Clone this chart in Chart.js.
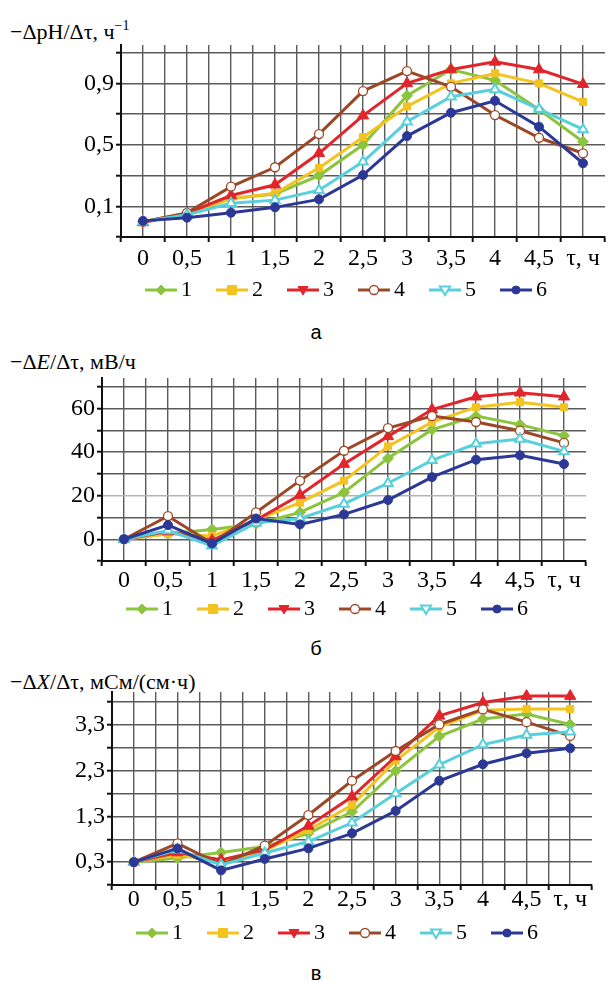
<!DOCTYPE html>
<html lang="ru">
<head>
<meta charset="utf-8">
<title>Скорость изменения pH, E и X</title>
<script src="https://cdn.jsdelivr.net/npm/chart.js@4.4.1/dist/chart.umd.min.js"></script>
<style>
  body { margin: 0; background: #fff; }
  #page { position: relative; width: 613px; height: 981px; overflow: hidden; font-family: 'Liberation Serif', 'Times New Roman', serif; color: #000; }
  #page canvas { position: absolute; left: 0; }
  .ytitle { position: absolute; left: 10px; font-size: 22px; line-height: 24px; white-space: nowrap; }
  .ytitle sup { font-size: 14px; line-height: 0; vertical-align: 9px; }
  .caption { position: absolute; left: 306px; width: 20px; text-align: center; font-family: 'Liberation Sans', Arial, sans-serif; font-size: 20px; line-height: 24px; }
</style>
</head>
<body>
<div id="page">
  <div class="ytitle" style="top:20px">−ΔpH/Δτ, ч<sup>−1</sup></div>
  <canvas id="chartPh" width="613" height="311" style="top:0"></canvas>
  <div class="caption" style="top:320px">а</div>

  <div class="ytitle" style="top:350px">−Δ<i>E</i>/Δτ, мВ/ч</div>
  <canvas id="chartE" width="613" height="290" style="top:340px"></canvas>
  <div class="caption" style="top:636px">б</div>

  <div class="ytitle" style="top:670px">−Δ<i>X</i>/Δτ, мСм/(см·ч)</div>
  <canvas id="chartX" width="613" height="294" style="top:660px"></canvas>
  <div class="caption" style="top:961px">в</div>
</div>
<script>
// time points (last one carries the axis name)
const categories = ['0', '0,5', '1', '1,5', '2', '2,5', '3', '3,5', '4', '4,5', 'τ, ч'];
const seriesNames = ['1', '2', '3', '4', '5', '6'];

// а: −ΔpH/Δτ, ч^-1
const ph1 = [0.0, 0.05, 0.15, 0.18, 0.30, 0.50, 0.82, 0.99, 0.92, 0.73, 0.52];
const ph2 = [0.0, 0.055, 0.15, 0.185, 0.35, 0.55, 0.75, 0.90, 0.965, 0.90, 0.78];
const ph3 = [-0.005, 0.055, 0.17, 0.24, 0.445, 0.69, 0.90, 0.99, 1.04, 0.99, 0.895];
const ph4 = [0.0, 0.057, 0.228, 0.354, 0.57, 0.85, 0.98, 0.878, 0.694, 0.546, 0.445];
const ph5 = [0.0, 0.045, 0.12, 0.14, 0.205, 0.39, 0.65, 0.813, 0.861, 0.733, 0.60];
const ph6 = [0.005, 0.026, 0.058, 0.093, 0.145, 0.303, 0.557, 0.709, 0.787, 0.618, 0.38];
const phTicks = [-0.1, 0.1, 0.3, 0.5, 0.7, 0.9, 1.1];
const phLabeled = [0.1, 0.5, 0.9];

// б: −ΔE/Δτ, мВ/ч
const e1 = [0, 2.5, 4.5, 7, 12.3, 21.5, 37.2, 50.3, 56.5, 52.6, 47.5];
const e2 = [0, 2.5, 1.5, 8.8, 16.8, 26.9, 42.6, 53.7, 60.6, 62.9, 60.6];
const e3 = [0, 3.5, -0.5, 8.8, 20.3, 34.5, 47.2, 59.5, 65.4, 67.2, 65.4];
const e4 = [0, 10.6, -2, 12.3, 26.9, 40.6, 51, 56.5, 53.8, 49.8, 44.2];
const e5 = [0, 4, -3, 7.5, 9.5, 16.2, 25.7, 36.2, 43.8, 46, 40.3];
const e6 = [0, 6.5, -2, 9.5, 6.8, 11.4, 18, 28.5, 36.5, 38.5, 34.5];
const eTicks = [-10, 0, 10, 20, 30, 40, 50, 60, 70];
const eLabeled = [0, 20, 40, 60];

// в: −ΔX/Δτ, мСм/(см·ч)
const x1 = [0.3, 0.39, 0.51, 0.64, 0.93, 1.4, 2.29, 3.05, 3.43, 3.54, 3.31];
const x2 = [0.3, 0.46, 0.3, 0.55, 1.0, 1.55, 2.52, 3.25, 3.62, 3.65, 3.65];
const x3 = [0.3, 0.51, 0.35, 0.57, 1.09, 1.73, 2.61, 3.5, 3.79, 3.93, 3.93];
const x4 = [0.3, 0.71, 0.24, 0.66, 1.33, 2.08, 2.73, 3.31, 3.64, 3.36, 3.06];
const x5 = [0.3, 0.57, 0.24, 0.5, 0.75, 1.16, 1.8, 2.43, 2.87, 3.08, 3.15];
const x6 = [0.3, 0.6, 0.12, 0.37, 0.6, 0.93, 1.42, 2.08, 2.44, 2.68, 2.79];
const xTicks = [-0.2, 0.3, 0.8, 1.3, 1.8, 2.3, 2.8, 3.3, 3.8];
const xLabeled = [0.3, 1.3, 2.3, 3.3];

// look of the six series
const styles = [
    {color: '#8cc43e', fill: '#8cc43e', point: 'rectRot', radius: 5.5, pointBorder: 1, legendShape: 'diamond', legendRadius: 5},
    {color: '#f3c31f', fill: '#f3c31f', point: 'rect', radius: 5, pointBorder: 1, legendShape: 'square', legendRadius: 4.5},
    {color: '#e1252b', fill: '#e1252b', point: 'triangle', radius: 6.5, pointBorder: 1, legendShape: 'triangleDown', legendRadius: 5},
    {color: '#9c4826', fill: '#ffffff', point: 'circle', radius: 4.5, pointBorder: 1.3, legendShape: 'circle', legendRadius: 4.5},
    {color: '#58d0dc', fill: '#ffffff', point: 'triangle', radius: 5.5, pointBorder: 2, legendShape: 'triangleDown', legendRadius: 5},
    {color: '#2c3896', fill: '#2c3896', point: 'circle', radius: 4.5, pointBorder: 1, legendShape: 'circle', legendRadius: 4},
];

const gridColor = '#5a5a5a';
const axisColor = '#111';

Chart.defaults.font.family = "'Liberation Serif', 'Times New Roman', serif";
Chart.defaults.color = '#000';

// legend glyph: transparent lead-in, then a short line with the marker
const LEGEND_W = 57;
const LEGEND_LINE = 32;

function legendImage(st) {
    const c = document.createElement('canvas');
    c.width = LEGEND_W;
    c.height = 16;
    const g = c.getContext('2d');
    const x0 = LEGEND_W - LEGEND_LINE;
    const cx = x0 + LEGEND_LINE / 2;
    g.strokeStyle = st.color;
    g.lineWidth = 3;
    g.beginPath();
    g.moveTo(x0, 8);
    g.lineTo(LEGEND_W, 8);
    g.stroke();
    const r = st.legendRadius;
    g.fillStyle = st.fill;
    g.lineWidth = st.pointBorder;
    g.beginPath();
    if (st.legendShape === 'diamond') {
        g.moveTo(cx, 8 - r); g.lineTo(cx + r, 8); g.lineTo(cx, 8 + r); g.lineTo(cx - r, 8); g.closePath();
    } else if (st.legendShape === 'square') {
        g.rect(cx - r, 8 - r, 2 * r, 2 * r);
    } else if (st.legendShape === 'triangleDown') {
        g.moveTo(cx - r, 8 - r * 0.7); g.lineTo(cx + r, 8 - r * 0.7); g.lineTo(cx, 8 + r); g.closePath();
    } else {
        g.arc(cx, 8, r, 0, Math.PI * 2);
    }
    g.fill();
    g.stroke();
    return c;
}

const legendImages = styles.map(legendImage);

function sameValue(a, b) {
    return Math.abs(a - b) < 1e-9;
}

function makePanel(canvasId, series, yMin, yMax, yTicks, yLabeled, geo) {
    const n = categories.length;
    const datasets = series.map((values, i) => {
        const st = styles[i];
        return {
            label: seriesNames[i],
            data: values.map((v, k) => ({x: k + 0.5, y: v})),
            borderColor: st.color,
            borderWidth: 3,
            backgroundColor: st.fill,
            pointStyle: st.point,
            pointRadius: st.radius,
            pointBackgroundColor: st.fill,
            pointBorderColor: st.color,
            pointBorderWidth: st.pointBorder,
            tension: 0,
            clip: false,
            order: series.length - 1 - i,
        };
    });

    return new Chart(document.getElementById(canvasId), {
        type: 'line',
        data: {datasets: datasets},
        options: {
            responsive: false,
            animation: false,
            devicePixelRatio: 1,
            layout: {padding: {top: geo.top, right: geo.right, bottom: 0, left: 0}},
            scales: {
                x: {
                    type: 'linear',
                    min: 0,
                    max: n,
                    // a line at every band edge and band centre, labels on the centres
                    afterBuildTicks: s => {
                        s.ticks = [];
                        for (let k = 0; k <= 2 * n; k++) {
                            s.ticks.push({value: k / 2});
                        }
                    },
                    afterFit: s => { s.height = geo.xAxisHeight; },
                    ticks: {
                        autoSkip: false,
                        maxRotation: 0,
                        padding: geo.xPad,
                        font: {size: 24},
                        color: '#000',
                        callback: v => Number.isInteger(v) ? '' : categories[v - 0.5],
                    },
                    grid: {
                        color: c => (c.tick && c.tick.value === n) ? 'rgba(0,0,0,0)' : gridColor,
                        lineWidth: 1.4,
                        tickLength: 5,
                        tickWidth: 2,
                        tickColor: c => (c.tick && Number.isInteger(c.tick.value)) ? axisColor : 'rgba(0,0,0,0)',
                    },
                    border: {color: axisColor, width: 2},
                },
                y: {
                    min: yMin,
                    max: yMax,
                    afterBuildTicks: s => { s.ticks = yTicks.map(v => ({value: v})); },
                    afterFit: s => { s.width = geo.left; },
                    ticks: {
                        autoSkip: false,
                        padding: 2,
                        font: {size: 24},
                        color: '#000',
                        callback: v => yLabeled.some(l => sameValue(l, v)) ? String(v).replace('.', ',') : '',
                    },
                    grid: {
                        color: c => (c.tick && geo.lightTick !== undefined && sameValue(c.tick.value, geo.lightTick)) ? '#b4b4b4' : gridColor,
                        lineWidth: 1.4,
                        tickLength: 5,
                        tickWidth: 2,
                        tickColor: axisColor,
                    },
                    border: {color: axisColor, width: 2},
                },
            },
            plugins: {
                tooltip: {enabled: false},
                legend: {
                    position: 'bottom',
                    align: 'start',
                    fullSize: false,
                    labels: {
                        usePointStyle: true,
                        pointStyleWidth: 43,
                        padding: 6,
                        color: '#000',
                        font: {size: 22},
                        sort: (a, b) => a.datasetIndex - b.datasetIndex,
                        generateLabels: chart => Chart.defaults.plugins.legend.labels.generateLabels(chart)
                            .map(item => Object.assign(item, {pointStyle: legendImages[item.datasetIndex]})),
                    },
                },
            },
        },
    });
}

makePanel('chartPh', [ph1, ph2, ph3, ph4, ph5, ph6], -0.1, 1.15, phTicks, phLabeled,
    {top: 45, right: 8, left: 121, xAxisHeight: 36, xPad: 2});
makePanel('chartE', [e1, e2, e3, e4, e5, e6], -10, 74, eTicks, eLabeled,
    {top: 38, right: 27, left: 102, xAxisHeight: 31, xPad: 0, lightTick: 20});
makePanel('chartX', [x1, x2, x3, x4, x5, x6], -0.2, 4.02, xTicks, xLabeled,
    {top: 32, right: 21, left: 112, xAxisHeight: 31, xPad: -5});
</script>
</body>
</html>
